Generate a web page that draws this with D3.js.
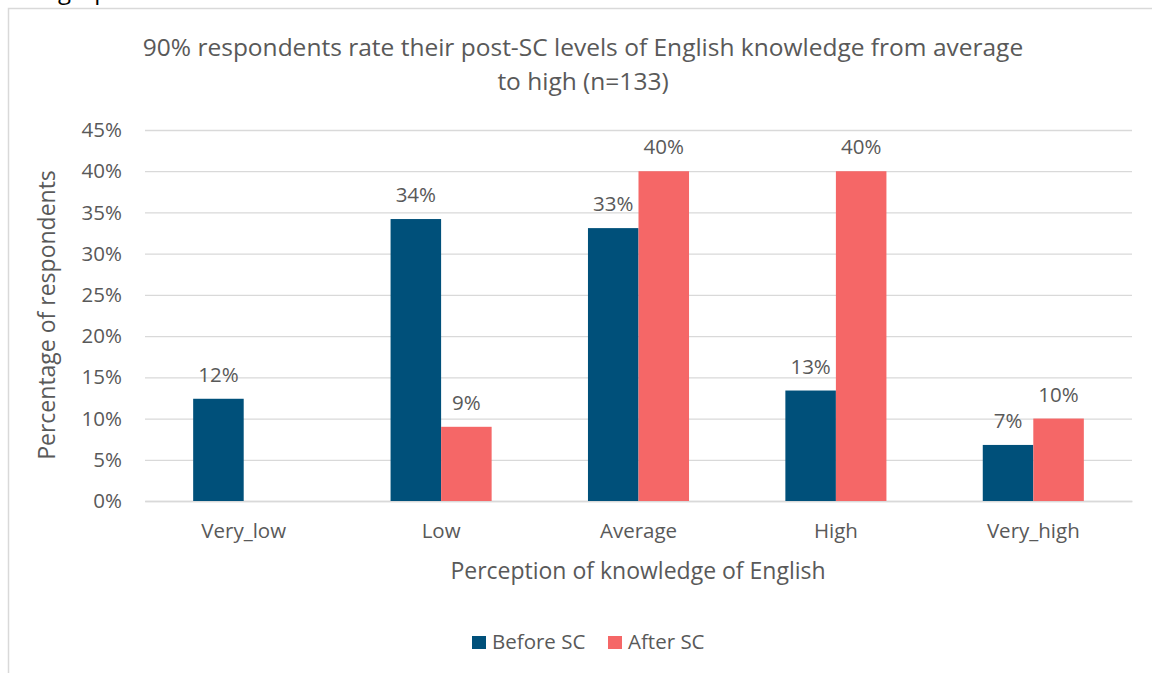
<!DOCTYPE html>
<html><head><meta charset="utf-8">
<script src="https://cdn.jsdelivr.net/npm/d3@7"></script>
<style>body{margin:0;background:#fff}svg{display:block}text{font-family:"Open Sans",sans-serif;fill:#595959}</style>
</head><body><svg id="c" width="1152" height="673"></svg>
<script>
const categories = ["Very_low","Low","Average","High","Very_high"];
const seriesNames = ["Before SC","After SC"];
const beforeSC = [12.4, 34.2, 33.1, 13.4, 6.8];
const afterSC = [0, 9.0, 40.0, 40.0, 10.0];
const yTicks = [0,5,10,15,20,25,30,35,40,45];
const colors = ["#00507A","#F56767"];
const titleLines = ["90% respondents rate their post-SC levels of English knowledge from average","to high (n=133)"];

const svg = d3.select("#c");
// frame
svg.append("path").attr("d","M8.5,673V8.5H1152").attr("fill","none").attr("stroke","#d9d9d9").attr("stroke-width",1.5);
svg.append("text").attr("x",58).attr("y",-1).style("fill","#000").style("font-size","24px").text("graph");

const pLeft=145,pRight=1132,pTop=130,pBottom=501;
const x = d3.scaleBand().domain(categories).range([pLeft,pRight]).paddingInner(0).paddingOuter(0);
const y = d3.scaleLinear().domain([0,45]).range([pBottom,pTop]);
const barW = x.bandwidth()*0.256;
const xs = d3.scaleBand().domain(seriesNames).range([0,barW*2]);

// gridlines
const yAxis = d3.axisLeft(y).tickValues(yTicks).tickSize(-(pRight-pLeft)).tickFormat(d=>d+"%").tickPadding(23);
const gy = svg.append("g").attr("transform",`translate(${pLeft},0)`).call(yAxis);
gy.select(".domain").remove();
gy.selectAll(".tick line").attr("stroke","#d9d9d9").attr("stroke-width",1.3);
gy.selectAll(".tick text").style("font-size","20.5px").style("fill","#595959").attr("font-family",null);

// x axis
const xAxis = d3.axisBottom(x).tickSize(0).tickPadding(22);
const gx = svg.append("g").attr("transform",`translate(0,${pBottom})`).call(xAxis);
gx.select(".domain").attr("stroke","#d9d9d9").attr("stroke-width",1.5);
gx.selectAll(".tick text").style("font-size","20.5px").style("fill","#595959").attr("font-family",null);

const data = categories.map((c,i)=>({c, vals:[{s:seriesNames[0],v:beforeSC[i]},{s:seriesNames[1],v:afterSC[i]}]}));
const g = svg.selectAll(".grp").data(data).join("g")
  .attr("transform",d=>`translate(${x(d.c)+x.bandwidth()/2-barW},0)`);
g.selectAll("rect").data(d=>d.vals).join("rect")
  .attr("x",d=>xs(d.s)).attr("width",xs.bandwidth())
  .attr("y",d=>y(d.v)).attr("height",d=>y(0)-y(d.v))
  .attr("fill",(d,i)=>colors[i]);
g.selectAll("text.lbl").data(d=>d.vals.filter(v=>v.v>0)).join("text").attr("class","lbl")
  .attr("x",d=>xs(d.s)+xs.bandwidth()/2).attr("y",d=>y(d.v)-17)
  .attr("text-anchor","middle").style("font-size","20.5px")
  .text(d=>Math.round(d.v)+"%");

// title
svg.append("text").attr("x",583).attr("y",56).attr("text-anchor","middle").style("font-size","24.5px").text(titleLines[0]);
svg.append("text").attr("x",583).attr("y",90).attr("text-anchor","middle").style("font-size","24.5px").text(titleLines[1]);

// axis titles
svg.append("text").attr("transform",`translate(55,315) rotate(-90)`).attr("text-anchor","middle").style("font-size","23px").text("Percentage of respondents");
svg.append("text").attr("x",638).attr("y",579).attr("text-anchor","middle").style("font-size","23px").text("Perception of knowledge of English");

// legend
const legX=[472,608];
seriesNames.forEach((s,i)=>{
  svg.append("rect").attr("x",legX[i]).attr("y",636).attr("width",14).attr("height",13).attr("fill",colors[i]);
  svg.append("text").attr("x",legX[i]+20).attr("y",649).style("font-size","20.5px").text(s);
});
</script></body></html>
